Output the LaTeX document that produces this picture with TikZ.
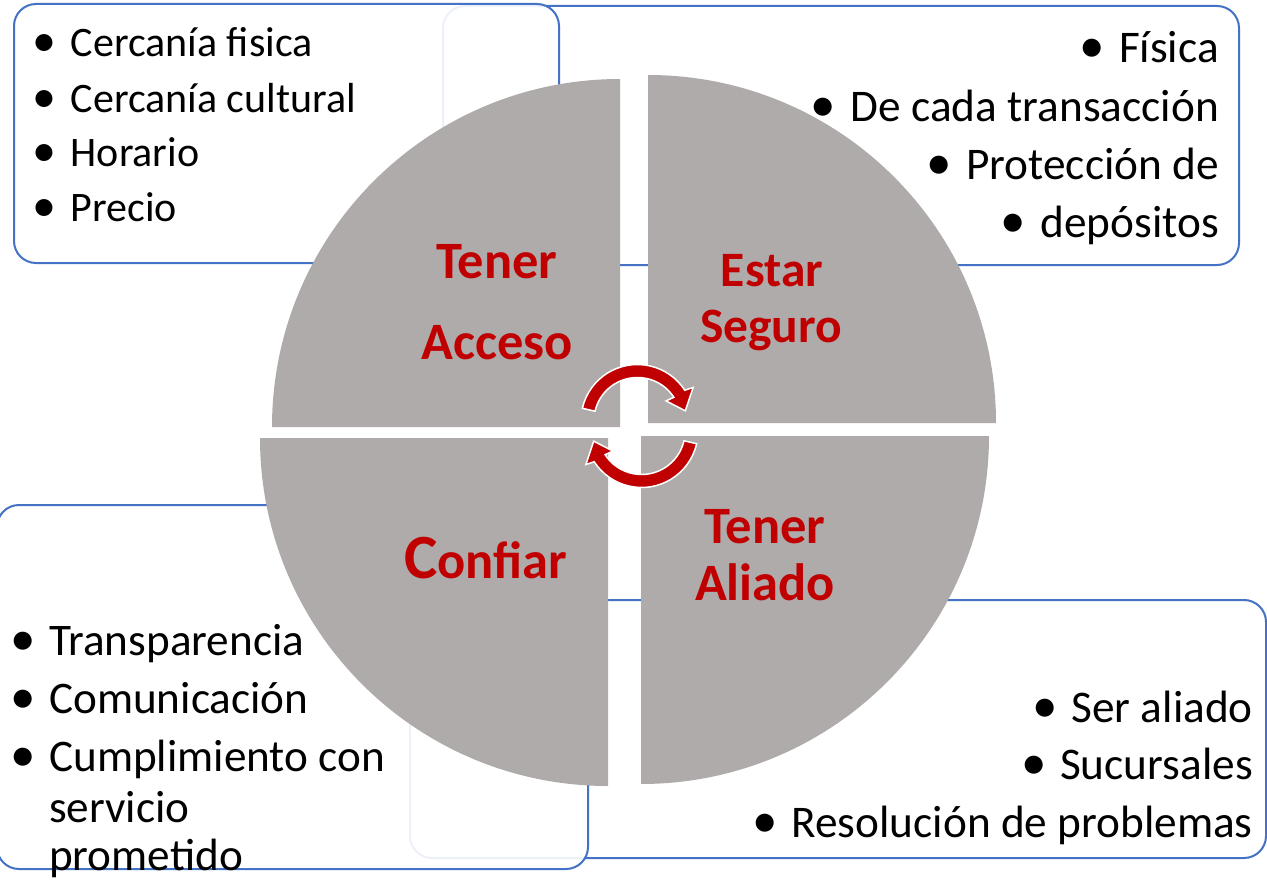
\documentclass[tikz,border=0pt]{standalone}
\usepackage{fontspec}
\setmainfont{Carlito}
\usetikzlibrary{calc}
\definecolor{boxblue}{HTML}{4472C4}
\definecolor{quadgray}{HTML}{AFABAB}
\definecolor{darkred}{HTML}{C00000}
\begin{document}
\begin{tikzpicture}[x=1pt,y=1pt,
  box/.style={draw=boxblue, line width=2pt, rounded corners=22pt, fill=white, inner sep=0pt, outer sep=0pt},
  boxfront/.style={box, fill opacity=0.9, draw opacity=1},
  quad/.style={fill=quadgray},
  lbl/.style={text=darkred, font=\fontsize{52.5}{52.5}\selectfont\bfseries, inner sep=0pt, anchor=base},
  lblS/.style={lbl, font=\fontsize{49.5}{49.5}\selectfont\bfseries},
  itemA/.style={font=\fontsize{42}{42}\selectfont, inner sep=0pt, anchor=base west},
  itemB/.style={font=\fontsize{45.2}{45.2}\selectfont, inner sep=0pt, anchor=base west},
  itemR/.style={font=\fontsize{45.3}{45.3}\selectfont, inner sep=0pt, anchor=base east},
  bulA/.style={font=\fontsize{48}{48}\selectfont, inner sep=0pt, anchor=base},
  bulB/.style={font=\fontsize{51}{51}\selectfont, inner sep=0pt, anchor=base},
  arrowsty/.style={fill=darkred, draw=white, line width=1.5pt, line join=miter}
]
\useasboundingbox (0,0) rectangle (1267,-880);
\clip (0,0) rectangle (1267,-880);
\fill[white] (0,0) rectangle (1267,-880);

% text boxes
\node[box, minimum width=796pt, minimum height=259pt] (boxTR) at (841,-135.5) {};
\node[boxfront, minimum width=545pt, minimum height=259pt] (boxTL) at (286.5,-133.5) {};
\node[box, minimum width=856pt, minimum height=258pt] (boxBR) at (838,-729) {};
\node[boxfront, minimum width=591pt, minimum height=364pt] (boxBL) at (292.5,-687) {};

% quadrants
\fill[quad] (620,-427) -- (620,-79) arc[start angle=90,end angle=180,radius=348] -- cycle;
\fill[quad] (648,-423) -- (996,-423) arc[start angle=0,end angle=90,radius=348] -- cycle;
\fill[quad] (608,-438) -- (260,-438) arc[start angle=180,end angle=270,radius=348] -- cycle;
\fill[quad] (641,-436) -- (641,-784) arc[start angle=270,end angle=360,radius=348] -- cycle;

% quadrant labels
\node[lbl] (tenerA) at (497,-278) {Tener};
\node[lbl] (acceso) at (497,-359) {Acceso};
\node[lblS] (estar) at (772,-286) {Estar};
\node[lblS] (seguro) at (771,-342) {Seguro};
\node[lbl] (tenerB) at (765,-543) {Tener};
\node[lbl] (aliado) at (765,-600) {Aliado};
\node[lbl, anchor=base west] (confiar) at (404,-578) {{\fontsize{63}{63}\selectfont C}onfiar};

% circular arrows
\coordinate (ca) at (637.4,-421);
\coordinate (cb) at (641.6,-431);
\filldraw[arrowsty] ($(ca)+(167:56.5)$) arc[start angle=167,end angle=33,radius=56.5]
  -- ($(ca)+(31:65)$) -- ($(ca)+(12:49)$) -- ($(ca)+(35:35)$) -- ($(ca)+(33:43.5)$)
  arc[start angle=33,end angle=167,radius=43.5] -- cycle;
\filldraw[arrowsty] ($(cb)+(347:56.5)$) arc[start angle=347,end angle=213,radius=56.5]
  -- ($(cb)+(211:65)$) -- ($(cb)+(192:49)$) -- ($(cb)+(215:35)$) -- ($(cb)+(213:43.5)$)
  arc[start angle=213,end angle=347,radius=43.5] -- cycle;

% top-left list
\node[itemA] (tl1) at (70.5,-57) {Cercanía fisica};
\node[itemA] (tl2) at (70.5,-113) {Cercanía cultural};
\node[itemA] (tl3) at (70.5,-167) {Horario};
\node[itemA] (tl4) at (70.5,-221) {Precio};
\node[bulA] (tlb1) at ($(tl1.base west)+(-26.5,0)$) {•};
\node[bulA] (tlb2) at ($(tl2.base west)+(-26.5,0)$) {•};
\node[bulA] (tlb3) at ($(tl3.base west)+(-26.5,0)$) {•};
\node[bulA] (tlb4) at ($(tl4.base west)+(-26.5,0)$) {•};

% top-right list
\node[itemR] (tr1) at (1219,-63) {Física};
\node[itemR] (tr2) at (1219,-122) {De cada transacción};
\node[itemR] (tr3) at (1219,-180) {Protección de};
\node[itemR] (tr4) at (1219,-237) {depósitos};
\node[bulB] (trb1) at ($(tr1.base west)+(-27,0)$) {•};
\node[bulB] (trb2) at ($(tr2.base west)+(-27,0)$) {•};
\node[bulB] (trb3) at ($(tr3.base west)+(-27,0)$) {•};
\node[bulB] (trb4) at ($(tr4.base west)+(-27,0)$) {•};

% bottom-left list
\node[itemB] (bl1) at (49,-655) {Transparencia};
\node[itemB] (bl2) at (49,-713) {Comunicación};
\node[itemB] (bl3) at (49,-771) {Cumplimiento con};
\node[itemB] (bl4) at (49,-822) {servicio};
\node[itemB] (bl5) at (49,-870) {prometido};
\node[bulB] (blb1) at ($(bl1.base west)+(-26,0)$) {•};
\node[bulB] (blb2) at ($(bl2.base west)+(-26,0)$) {•};
\node[bulB] (blb3) at ($(bl3.base west)+(-26,0)$) {•};

% bottom-right list
\node[itemR] (br1) at (1253,-722) {Ser aliado};
\node[itemR] (br2) at (1253,-779) {Sucursales};
\node[itemR] (br3) at (1253,-837) {Resolución de problemas};
\node[bulB] (brb1) at ($(br1.base west)+(-26,0)$) {•};
\node[bulB] (brb2) at ($(br2.base west)+(-26,0)$) {•};
\node[bulB] (brb3) at ($(br3.base west)+(-26,0)$) {•};
\end{tikzpicture}
\end{document}
